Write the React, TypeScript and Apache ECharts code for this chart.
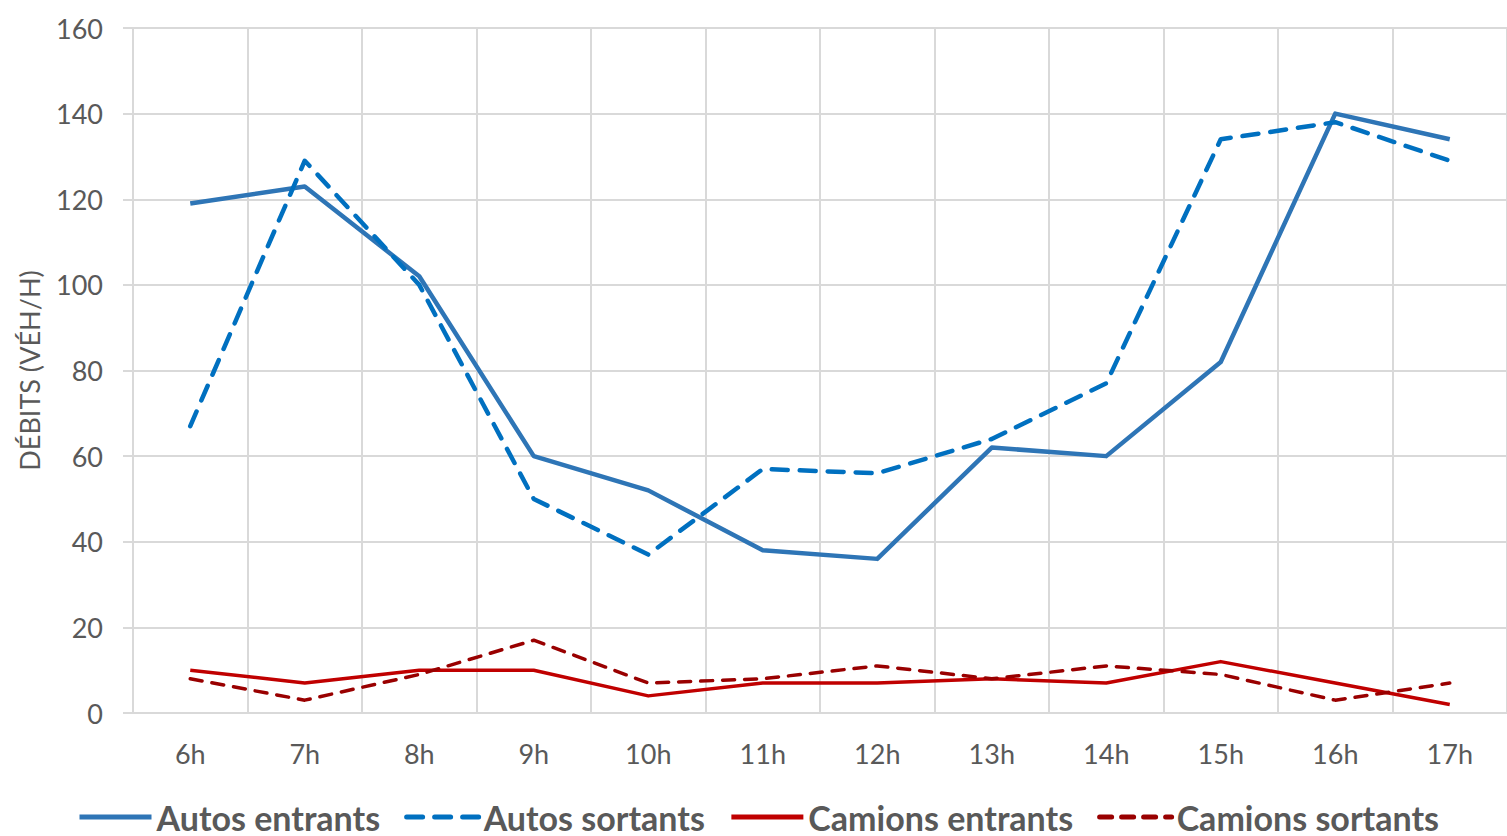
import React, { useEffect, useRef } from "react";
import * as echarts from "echarts";

const hours = ["6h", "7h", "8h", "9h", "10h", "11h", "12h", "13h", "14h", "15h", "16h", "17h"];
const autosEntrants = [119, 123, 102, 60, 52, 38, 36, 62, 60, 82, 140, 134];
const autosSortants = [67, 129, 100, 50, 37, 57, 56, 64, 77, 134, 138, 129];
const camionsEntrants = [10, 7, 10, 10, 4, 7, 7, 8, 7, 12, 7, 2];
const camionsSortants = [8, 3, 9, 17, 7, 8, 11, 8, 11, 9, 3, 7];

export default function App() {
  const ref = useRef<HTMLDivElement>(null);
  useEffect(() => {
    if (!ref.current) return;
    const chart = echarts.init(ref.current, null, { renderer: "svg" });
    const mk = (name: string, data: number[], color: string, width: number, dash: any) => ({
      name,
      type: "line",
      data,
      symbol: "none",
      showSymbol: false,
      lineStyle: { color, width, type: dash, cap: dash === "solid" ? "butt" : "round", join: "round" },
      itemStyle: { color },
    });
    chart.setOption({
      animation: false,
      textStyle: { fontFamily: "Lato" },
      grid: { left: 133, top: 28, width: 1376, bottom: 123 },
      legend: {
        left: 72,
        top: 795,
        itemWidth: 72,
        itemHeight: 14,
        itemGap: 24,
        itemStyle: { opacity: 0, borderWidth: 0 },
        lineStyle: { width: 5 },
        textStyle: { fontFamily: "Lato", fontWeight: "bold", fontSize: 34, color: "#595959" },
        data: ["Autos entrants", "Autos sortants", "Camions entrants", "Camions sortants"],
      },
      xAxis: {
        type: "category",
        data: hours,
        boundaryGap: true,
        axisLine: { lineStyle: { color: "#d9d9d9", width: 2 } },
        axisTick: { show: false },
        splitLine: { show: true, lineStyle: { color: "#d9d9d9", width: 2 } },
        axisLabel: { color: "#595959", fontSize: 27, margin: 27, fontFamily: "Lato" },
      },
      yAxis: {
        type: "value",
        min: 0,
        max: 160,
        interval: 20,
        name: "DÉBITS (VÉH/H)",
        nameLocation: "middle",
        nameGap: 90,
        nameTextStyle: { color: "#595959", fontSize: 27, fontFamily: "Lato" },
        axisLine: { show: true, lineStyle: { color: "#d9d9d9", width: 2 } },
        axisTick: { show: true, length: 10, lineStyle: { color: "#d9d9d9", width: 2 } },
        splitLine: { show: true, lineStyle: { color: "#d9d9d9", width: 2 } },
        axisLabel: { color: "#595959", fontSize: 27, margin: 30, fontFamily: "Lato" },
      },
      series: [
        mk("Autos entrants", autosEntrants, "#2E75B6", 4.5, "solid"),
        mk("Autos sortants", autosSortants, "#0070C0", 4.5, [16, 12]),
        mk("Camions entrants", camionsEntrants, "#C00000", 3.5, "solid"),
        mk("Camions sortants", camionsSortants, "#990000", 3.5, [12, 10]),
      ],
    });
    return () => chart.dispose();
  }, []);
  return <div ref={ref} style={{ width: 1507, height: 836, position: "absolute", left: 0, top: 0 }} />;
}
